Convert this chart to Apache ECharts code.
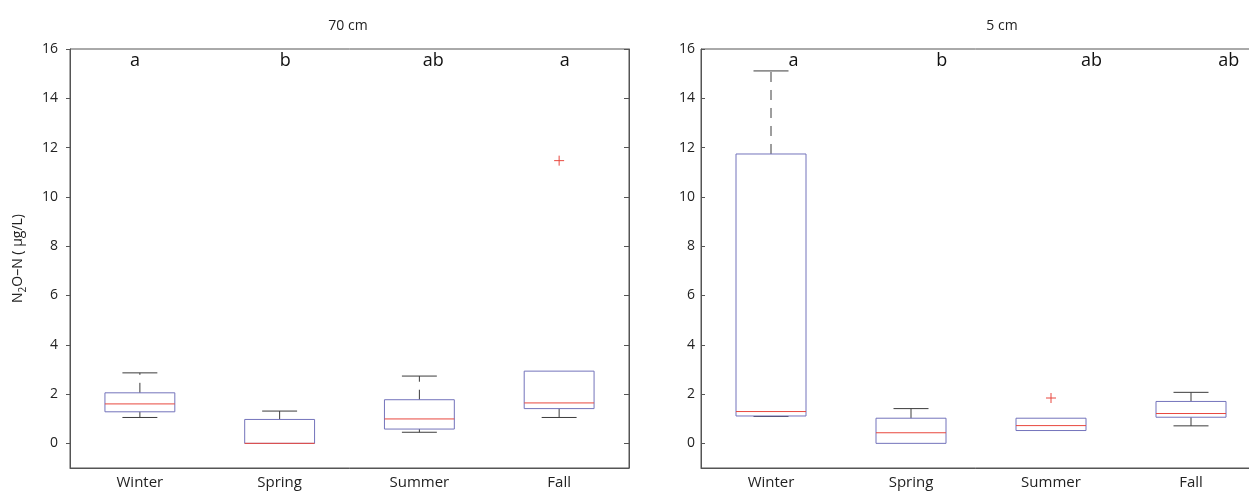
<!DOCTYPE html>
<html>
<head>
<meta charset="utf-8">
<title>N2O-N by season</title>
<script src="https://cdn.jsdelivr.net/npm/echarts@6/dist/echarts.min.js"></script>
<style>
  html, body { margin: 0; padding: 0; background: #fff; }
  #chart { width: 1249px; height: 491px; }
</style>
</head>
<body>
<div id="chart"></div>
<script>
// Seasons on the x axis
const categories = ['Winter', 'Spring', 'Summer', 'Fall'];
const yTicks = [0, 2, 4, 6, 8, 10, 12, 14, 16];

// 70 cm depth: five-number summaries (µg/L)
const low70 = [1.05, 0.00, 0.45, 1.05];
const q1_70 = [1.28, 0.00, 0.58, 1.41];
const median70 = [1.60, 0.00, 0.99, 1.64];
const q3_70 = [2.05, 0.97, 1.77, 2.93];
const high70 = [2.86, 1.31, 2.73, 2.93];
const outlierSeason70 = ['Fall'];
const outlierValue70 = [11.47];
const letters70 = ['a', 'b', 'ab', 'a'];

// 5 cm depth: five-number summaries (µg/L)
const low5 = [1.09, 0.00, 0.52, 0.71];
const q1_5 = [1.11, 0.00, 0.52, 1.06];
const median5 = [1.29, 0.43, 0.72, 1.21];
const q3_5 = [11.74, 1.02, 1.02, 1.70];
const high5 = [15.11, 1.41, 1.02, 2.07];
const outlierSeason5 = ['Summer'];
const outlierValue5 = [1.84];
const letters5 = ['a', 'b', 'ab', 'ab'];

// Layout / styling
const FONT = '"Open Sans", "DejaVu Sans", sans-serif';
const AXIS_COLOR = '#555';
const TEXT_COLOR = '#222';
const BOX_COLOR = '#7373bb';
const MEDIAN_COLOR = '#e8473e';
const WHISKER_COLOR = '#3c3c3c';
const LETTER_X_70 = [0.965, 2.04, 3.10, 4.04];
const LETTER_X_5 = [1.16, 2.22, 3.29, 4.27];
const LETTER_Y = 15.52;

function boxRows(low, q1, med, q3, high) {
  return categories.map((c, i) => [i, low[i], q1[i], med[i], q3[i], high[i]]);
}
function outlierRows(seasons, values) {
  return seasons.map((s, i) => [categories.indexOf(s), values[i]]);
}
function letterRows(xs) {
  return xs.map(x => [x, LETTER_Y]);
}

// Box with dashed whiskers, solid caps and a red median line
function renderBox(params, api) {
  const xi = api.value(0);
  const lo = api.value(1), q1 = api.value(2), med = api.value(3), q3 = api.value(4), hi = api.value(5);
  const band = api.size([1, 0])[0];
  const half = band * 0.25;
  const capHalf = band * 0.125;
  const cx = api.coord([xi, 0])[0];
  const y = v => api.coord([xi, v])[1];
  const children = [];
  const dash = { stroke: WHISKER_COLOR, lineWidth: 1, lineDash: [10, 8] };
  const solid = { stroke: WHISKER_COLOR, lineWidth: 1 };
  if (hi > q3) {
    children.push({ type: 'line', shape: { x1: cx, y1: y(q3), x2: cx, y2: y(hi) }, style: dash });
    children.push({ type: 'line', shape: { x1: cx - capHalf, y1: y(hi), x2: cx + capHalf, y2: y(hi) }, style: solid });
  }
  if (lo < q1) {
    children.push({ type: 'line', shape: { x1: cx, y1: y(q1), x2: cx, y2: y(lo) }, style: dash });
    children.push({ type: 'line', shape: { x1: cx - capHalf, y1: y(lo), x2: cx + capHalf, y2: y(lo) }, style: solid });
  }
  children.push({
    type: 'rect',
    shape: { x: cx - half, y: y(q3), width: half * 2, height: y(q1) - y(q3) },
    style: { fill: 'none', stroke: BOX_COLOR, lineWidth: 1 }
  });
  children.push({
    type: 'line',
    shape: { x1: cx - half, y1: y(med), x2: cx + half, y2: y(med) },
    style: { stroke: MEDIAN_COLOR, lineWidth: 1 }
  });
  return { type: 'group', children };
}

// Outliers drawn as red plus signs
function renderOutlier(params, api) {
  const p = api.coord([api.value(0), api.value(1)]);
  const s = 5;
  const st = { stroke: MEDIAN_COLOR, lineWidth: 1 };
  return {
    type: 'group',
    children: [
      { type: 'line', shape: { x1: p[0] - s, y1: p[1], x2: p[0] + s, y2: p[1] }, style: st },
      { type: 'line', shape: { x1: p[0], y1: p[1] - s, x2: p[0], y2: p[1] + s }, style: st }
    ]
  };
}

function catAxis(gridIndex) {
  return {
    type: 'category', gridIndex, data: categories, boundaryGap: true,
    axisLine: { show: true, onZero: false, lineStyle: { color: AXIS_COLOR, width: 1 } },
    axisTick: { show: false },
    axisLabel: { color: TEXT_COLOR, fontSize: 15, fontFamily: FONT, margin: 7 },
    splitLine: { show: false }
  };
}
function hiddenXAxis(gridIndex) {
  return { type: 'value', gridIndex, min: 0.5, max: 4.5, show: false,
    axisLine: { onZero: false } };
}
function leftYAxis(gridIndex, opts) {
  return Object.assign({
    type: 'value', gridIndex, min: -1, max: 16, position: 'left',
    axisLine: { show: true, onZero: false, lineStyle: { color: AXIS_COLOR, width: 1 } },
    axisTick: { show: true, inside: false, length: 4, customValues: yTicks, lineStyle: { color: AXIS_COLOR } },
    axisLabel: { color: TEXT_COLOR, fontSize: 14, fontFamily: FONT, customValues: yTicks },
    splitLine: { show: false }
  }, opts);
}
function rightYAxis(gridIndex) {
  return {
    type: 'value', gridIndex, min: -1, max: 16, position: 'right',
    axisLine: { show: true, onZero: false, lineStyle: { color: AXIS_COLOR, width: 1 } },
    axisTick: { show: true, inside: true, length: 5, customValues: yTicks, lineStyle: { color: AXIS_COLOR } },
    axisLabel: { show: false },
    splitLine: { show: false }
  };
}

// Significance letters above each season
const letterSeries = (xIdx, yIdx, xs, letters) => ({
  type: 'custom', xAxisIndex: xIdx, yAxisIndex: yIdx,
  renderItem: (params, api) => {
    const p = api.coord([api.value(0), api.value(1)]);
    return {
      type: 'text', x: p[0], y: p[1],
      style: { text: letters[params.dataIndex], fill: '#111', font: '18px ' + FONT, align: 'center', verticalAlign: 'middle' }
    };
  },
  data: letterRows(xs),
  silent: true
});

const chart = echarts.init(document.getElementById('chart'), null, { renderer: 'canvas' });

chart.setOption({
  animation: false,
  backgroundColor: '#fff',
  title: [
    { text: '70 cm', left: 343, top: 14, textAlign: 'center',
      textStyle: { fontSize: 14, fontWeight: 'normal', color: TEXT_COLOR, fontFamily: FONT } },
    { text: '5 cm', left: 997, top: 14, textAlign: 'center',
      textStyle: { fontSize: 14, fontWeight: 'normal', color: TEXT_COLOR, fontFamily: FONT } }
  ],
  grid: [
    { left: 70, top: 49, width: 559, height: 419, show: true, borderColor: AXIS_COLOR, borderWidth: 1,
      outerBoundsMode: 'none', containLabel: false },
    { left: 701, top: 49, width: 560, height: 419, show: true, borderColor: AXIS_COLOR, borderWidth: 1,
      outerBoundsMode: 'none', containLabel: false }
  ],
  xAxis: [catAxis(0), hiddenXAxis(0), catAxis(1), hiddenXAxis(1)],
  yAxis: [
    leftYAxis(0, {
      name: 'N{sub|2}O\u2013N ( \u00b5g/L)',
      nameLocation: 'middle', nameGap: 42, nameRotate: 90,
      nameTextStyle: {
        color: TEXT_COLOR, fontSize: 14, fontFamily: FONT,
        rich: { sub: { fontSize: 10, fontFamily: FONT, color: TEXT_COLOR, verticalAlign: 'bottom', padding: [9, 0, 0, 0] } }
      },
      axisLabel: { color: TEXT_COLOR, fontSize: 14, fontFamily: FONT, customValues: yTicks, margin: 12 }
    }),
    rightYAxis(0),
    leftYAxis(1, {
      axisTick: { show: true, inside: true, length: 4, customValues: yTicks, lineStyle: { color: AXIS_COLOR } },
      axisLabel: { color: TEXT_COLOR, fontSize: 14, fontFamily: FONT, customValues: yTicks, margin: 6 }
    }),
    rightYAxis(1)
  ],
  series: [
    { type: 'custom', xAxisIndex: 0, yAxisIndex: 0, renderItem: renderBox,
      data: boxRows(low70, q1_70, median70, q3_70, high70), silent: true },
    { type: 'custom', xAxisIndex: 0, yAxisIndex: 0, renderItem: renderOutlier,
      data: outlierRows(outlierSeason70, outlierValue70), silent: true },
    letterSeries(1, 0, LETTER_X_70, letters70),
    { type: 'custom', xAxisIndex: 2, yAxisIndex: 2, renderItem: renderBox,
      data: boxRows(low5, q1_5, median5, q3_5, high5), silent: true },
    { type: 'custom', xAxisIndex: 2, yAxisIndex: 2, renderItem: renderOutlier,
      data: outlierRows(outlierSeason5, outlierValue5), silent: true },
    letterSeries(3, 2, LETTER_X_5, letters5)
  ]
});
</script>
</body>
</html>
